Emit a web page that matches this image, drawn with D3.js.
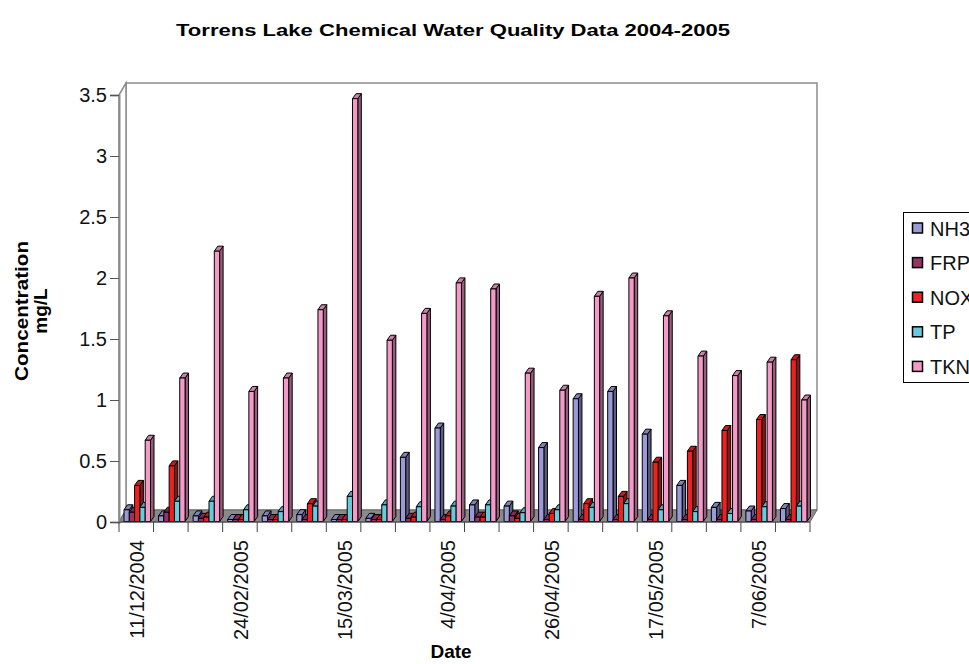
<!DOCTYPE html>
<html>
<head>
<meta charset="utf-8">
<script src="https://cdnjs.cloudflare.com/ajax/libs/d3/7.8.5/d3.min.js"></script>
<style>
  html, body { margin: 0; padding: 0; background: #fff; }
  svg { display: block; font-family: "Liberation Sans", Arial, sans-serif; }
</style>
</head>
<body>
<svg id="chart" width="969" height="664"></svg>
<script>
// Sampling dates shown on the category axis (every third sample is labelled)
const tickLabels = ["11/12/2004", "", "", "24/02/2005", "", "", "15/03/2005", "", "",
  "4/04/2005", "", "", "26/04/2005", "", "", "17/05/2005", "", "", "7/06/2005", ""];

const seriesNames = ["NH3", "FRP", "NOX", "TP", "TKN"];
const seriesColors = ["#9a9ad8", "#993366", "#ee2020", "#66ccdd", "#f59ac8"];

// Concentrations in mg/L for each sampling run
const nh3 = [0.10, 0.05, 0.05, 0.02, 0.05, 0.06, 0.02, 0.03, 0.53, 0.77,
             0.14, 0.13, 0.61, 1.01, 1.07, 0.72, 0.30, 0.12, 0.09, 0.11];
const frp = [0.08, 0.08, 0.03, 0.02, 0.02, 0.02, 0.02, 0.02, 0.03, 0.02,
             0.04, 0.05, 0.02, 0.02, 0.02, 0.02, 0.02, 0.02, 0.02, 0.02];
const nox = [0.30, 0.46, 0.04, 0.02, 0.02, 0.15, 0.02, 0.02, 0.04, 0.05,
             0.04, 0.03, 0.07, 0.15, 0.21, 0.49, 0.58, 0.75, 0.84, 1.33];
const tp  = [0.12, 0.17, 0.17, 0.10, 0.085, 0.13, 0.21, 0.14, 0.125, 0.13,
             0.14, 0.076, 0.10, 0.12, 0.15, 0.10, 0.085, 0.07, 0.125, 0.13];
const tkn = [0.67, 1.18, 2.22, 1.07, 1.18, 1.74, 3.47, 1.49, 1.71, 1.96,
             1.91, 1.22, 1.08, 1.85, 2.00, 1.69, 1.36, 1.20, 1.31, 1.00];

const yTicks = [0, 0.5, 1, 1.5, 2, 2.5, 3, 3.5];

const seriesValues = [nh3, frp, nox, tp, tkn];

const svg = d3.select("#chart");

// Plot frame (front plane) and 3-D depth offset of the walls
const plotLeft = 119, plotRight = 810, plotBottom = 522, plotTop = 95;
const depth = { dx: 7, dy: -12 };
const barDepth = { dx: 3.5, dy: -5 };

const x = d3.scaleBand().domain(d3.range(tickLabels.length)).range([plotLeft, plotRight]);
const inner = d3.scaleBand().domain(seriesNames).range([5, 31.5]);
const y = d3.scaleLinear().domain([0, 3.5]).range([plotBottom, plotTop]);

// Title
svg.append("text")
  .attr("x", 453).attr("y", 36)
  .attr("text-anchor", "middle")
  .attr("font-size", 17).attr("font-weight", "bold")
  .attr("textLength", 554).attr("lengthAdjust", "spacingAndGlyphs")
  .text("Torrens Lake Chemical Water Quality Data 2004-2005");

// Back wall
const wallColor = "#8c8c8c";
svg.append("rect")
  .attr("x", plotLeft + depth.dx).attr("y", plotTop + depth.dy)
  .attr("width", plotRight - plotLeft).attr("height", plotBottom - plotTop)
  .attr("fill", "#fff").attr("stroke", wallColor).attr("stroke-width", 1.5);

// Side wall
svg.append("path")
  .attr("d", d3.line()([[plotLeft, plotTop], [plotLeft + depth.dx, plotTop + depth.dy],
    [plotLeft + depth.dx, plotBottom + depth.dy], [plotLeft, plotBottom]]) + "Z")
  .attr("fill", "#fff").attr("stroke", wallColor).attr("stroke-width", 1.5);

// Floor
svg.append("path")
  .attr("d", d3.line()([[plotLeft, plotBottom], [plotRight, plotBottom],
    [plotRight + depth.dx, plotBottom + depth.dy], [plotLeft + depth.dx, plotBottom + depth.dy]]) + "Z")
  .attr("fill", "#8a8a8a").attr("stroke", "#6a6a6a").attr("stroke-width", 1);

// Value axis
const yAxis = svg.append("g").attr("transform", `translate(${plotLeft},0)`)
  .call(d3.axisLeft(y).tickValues(yTicks).tickSize(9).tickPadding(3)
    .tickFormat(d3.format("")));
yAxis.select(".domain").attr("stroke", "#8a8a8a").attr("stroke-width", 2);
yAxis.selectAll(".tick line").attr("stroke", "#555");
yAxis.selectAll(".tick text")
  .attr("font-size", 20).attr("fill", "#111")
  .attr("font-family", "Liberation Sans, Arial, sans-serif");

// Bars: front face, right side face and top face
const barW = inner.bandwidth();
const groups = svg.append("g").selectAll("g")
  .data(d3.range(tickLabels.length))
  .join("g")
  .attr("transform", i => `translate(${x(i)},0)`);

groups.each(function (i) {
  const g = d3.select(this);
  seriesNames.forEach((name, s) => {
    const v = seriesValues[s][i];
    const x0 = inner(name), x1 = x0 + barW;
    const y0 = y(0) - 0.5, y1 = y(v);
    const base = d3.color(seriesColors[s]);
    const bar = g.append("g").attr("class", "bar")
      .attr("stroke", "#000").attr("stroke-width", 1).attr("stroke-linejoin", "round");
    bar.append("path")
      .attr("d", d3.line()([[x1, y1], [x1 + barDepth.dx, y1 + barDepth.dy],
        [x1 + barDepth.dx, y0 + barDepth.dy], [x1, y0]]) + "Z")
      .attr("fill", base.darker(1.4));
    bar.append("path")
      .attr("d", d3.line()([[x0, y1], [x0 + barDepth.dx, y1 + barDepth.dy],
        [x1 + barDepth.dx, y1 + barDepth.dy], [x1, y1]]) + "Z")
      .attr("fill", base.darker(0.5));
    bar.append("rect")
      .attr("x", x0).attr("y", y1)
      .attr("width", barW).attr("height", Math.max(0, y0 - y1))
      .attr("fill", base);
  });
});

// Category axis
const xAxis = svg.append("g").attr("transform", `translate(0,${plotBottom})`);
xAxis.append("line")
  .attr("x1", plotLeft).attr("x2", plotRight).attr("stroke", "#444").attr("stroke-width", 1);
xAxis.selectAll(".tickmark")
  .data(d3.range(tickLabels.length + 1))
  .join("line")
  .attr("class", "tickmark")
  .attr("x1", i => plotLeft + i * x.step()).attr("x2", i => plotLeft + i * x.step())
  .attr("y1", 0).attr("y2", 10)
  .attr("stroke", "#444");
xAxis.selectAll(".ticklabel")
  .data(d3.range(tickLabels.length).filter(i => tickLabels[i] !== ""))
  .join("text")
  .attr("class", "ticklabel")
  .attr("transform", i => `translate(${x(i) + x.bandwidth() / 2 + 8},18) rotate(-90)`)
  .attr("text-anchor", "end")
  .attr("font-size", 20).attr("fill", "#111")
  .text(i => tickLabels[i]);

// Axis titles
svg.append("text")
  .attr("x", 451).attr("y", 658)
  .attr("text-anchor", "middle")
  .attr("font-size", 19).attr("font-weight", "bold")
  .text("Date");

const yTitle = svg.append("text")
  .attr("transform", "translate(28,311) rotate(-90)")
  .attr("text-anchor", "middle")
  .attr("font-size", 19).attr("font-weight", "bold");
yTitle.append("tspan").attr("x", 0).attr("dy", 0)
  .attr("textLength", 140).attr("lengthAdjust", "spacingAndGlyphs").text("Concentration");
yTitle.append("tspan").attr("x", 0).attr("dy", 19).text("mg/L");

// Legend (runs past the right edge of the page)
const legend = svg.append("g");
legend.append("rect")
  .attr("x", 903.5).attr("y", 212.5).attr("width", 80).attr("height", 170)
  .attr("fill", "#fff").attr("stroke", "#000");
const item = legend.selectAll(".item").data(seriesNames).join("g")
  .attr("class", "item")
  .attr("transform", (d, i) => `translate(912,${228.5 + i * 34.6})`);
item.append("rect")
  .attr("x", 0.5).attr("y", -5.5).attr("width", 10).attr("height", 10)
  .attr("fill", (d, i) => seriesColors[i]).attr("stroke", "#000").attr("stroke-width", 1.5);
item.append("text")
  .attr("x", 18).attr("y", 7)
  .attr("font-size", 20).attr("fill", "#111")
  .text(d => d);
</script>
</body>
</html>
